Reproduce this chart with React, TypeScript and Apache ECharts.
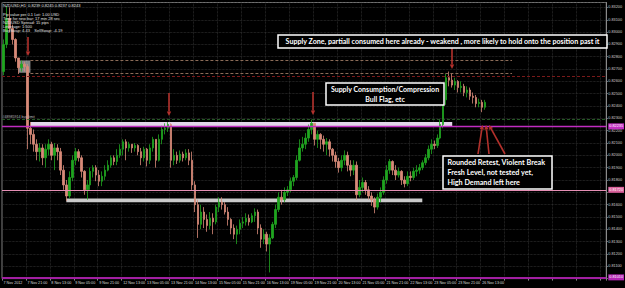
import React, { useEffect, useRef } from 'react';
import * as echarts from 'echarts';

// x-axis tick labels (one every 8 two-hour bars = 16 trading hours)
const tickLabels = [
  '7 Nov 2012', '7 Nov 21:00', '8 Nov 13:00', '9 Nov 05:00', '9 Nov 21:00', '12 Nov 13:00',
  '13 Nov 05:00', '13 Nov 21:00', '14 Nov 13:00', '15 Nov 05:00', '15 Nov 21:00', '16 Nov 13:00',
  '19 Nov 05:00', '19 Nov 21:00', '20 Nov 13:00', '21 Nov 05:00', '21 Nov 21:00', '22 Nov 13:00',
  '23 Nov 05:00', '23 Nov 21:00', '26 Nov 13:00',
];

const firstOpen = 0.8268;
const closes = [
  0.8290, 0.8311, 0.8303, 0.8294, 0.8279, 0.8271, 0.8274, 0.8272, 0.8222, 0.8217,
  0.8209, 0.8203, 0.8206, 0.8198, 0.8205, 0.8209, 0.8200, 0.8206, 0.8203, 0.8188,
  0.8176, 0.8167, 0.8182, 0.8196, 0.8203, 0.8198, 0.8187, 0.8172, 0.8176, 0.8187,
  0.8190, 0.8184, 0.8179, 0.8183, 0.8188, 0.8192, 0.8198, 0.8195, 0.8200, 0.8205,
  0.8211, 0.8206, 0.8209, 0.8206, 0.8208, 0.8203, 0.8198, 0.8205, 0.8196, 0.8206,
  0.8213, 0.8196, 0.8213, 0.8221, 0.8222, 0.8225, 0.8196, 0.8200, 0.8196, 0.8201,
  0.8198, 0.8202, 0.8196, 0.8176, 0.8160, 0.8144, 0.8154, 0.8148, 0.8143, 0.8149,
  0.8146, 0.8158, 0.8162, 0.8160, 0.8154, 0.8148, 0.8141, 0.8136, 0.8140, 0.8145,
  0.8146, 0.8149, 0.8146, 0.8151, 0.8154, 0.8141, 0.8132, 0.8136, 0.8128, 0.8133,
  0.8144, 0.8156, 0.8166, 0.8164, 0.8170, 0.8172, 0.8179, 0.8182, 0.8196, 0.8206,
  0.8209, 0.8214, 0.8221, 0.8226, 0.8213, 0.8217, 0.8213, 0.8209, 0.8211, 0.8205,
  0.8200, 0.8195, 0.8190, 0.8196, 0.8200, 0.8192, 0.8188, 0.8192, 0.8168, 0.8174,
  0.8178, 0.8172, 0.8167, 0.8164, 0.8158, 0.8166, 0.8170, 0.8180, 0.8188, 0.8195,
  0.8188, 0.8184, 0.8187, 0.8180, 0.8177, 0.8183, 0.8182, 0.8187, 0.8188, 0.8190,
  0.8194, 0.8198, 0.8205, 0.8209, 0.8208, 0.8214, 0.8225, 0.8245, 0.8263, 0.8261,
  0.8257, 0.8260, 0.8255, 0.8256, 0.8251, 0.8253, 0.8248, 0.8247, 0.8242, 0.8243,
  0.8239, 0.8243,
];
const highs = [
  0.8294, 0.8321, 0.8320, 0.8306, 0.8295, 0.8279, 0.8277, 0.8276, 0.8274, 0.8227,
  0.8221, 0.8213, 0.8210, 0.8209, 0.8209, 0.8213, 0.8211, 0.8210, 0.8209, 0.8206,
  0.8192, 0.8180, 0.8187, 0.8200, 0.8206, 0.8205, 0.8200, 0.8188, 0.8180, 0.8190,
  0.8192, 0.8192, 0.8188, 0.8187, 0.8192, 0.8196, 0.8200, 0.8200, 0.8205, 0.8209,
  0.8213, 0.8213, 0.8211, 0.8209, 0.8210, 0.8209, 0.8206, 0.8207, 0.8206, 0.8209,
  0.8215, 0.8213, 0.8217, 0.8224, 0.8226, 0.8227, 0.8226, 0.8205, 0.8203, 0.8204,
  0.8203, 0.8205, 0.8205, 0.8203, 0.8179, 0.8164, 0.8160, 0.8158, 0.8152, 0.8154,
  0.8153, 0.8160, 0.8166, 0.8166, 0.8162, 0.8158, 0.8149, 0.8144, 0.8143, 0.8148,
  0.8150, 0.8153, 0.8152, 0.8153, 0.8157, 0.8156, 0.8144, 0.8140, 0.8138, 0.8136,
  0.8146, 0.8160, 0.8170, 0.8172, 0.8174, 0.8175, 0.8182, 0.8184, 0.8200, 0.8213,
  0.8215, 0.8218, 0.8225, 0.8229, 0.8226, 0.8220, 0.8218, 0.8216, 0.8214, 0.8213,
  0.8206, 0.8203, 0.8198, 0.8200, 0.8204, 0.8203, 0.8196, 0.8196, 0.8195, 0.8180,
  0.8182, 0.8180, 0.8175, 0.8170, 0.8166, 0.8169, 0.8174, 0.8183, 0.8192, 0.8197,
  0.8196, 0.8192, 0.8190, 0.8188, 0.8183, 0.8187, 0.8187, 0.8190, 0.8192, 0.8193,
  0.8196, 0.8201, 0.8208, 0.8213, 0.8212, 0.8217, 0.8229, 0.8249, 0.8266, 0.8268,
  0.8266, 0.8263, 0.8261, 0.8260, 0.8258, 0.8256, 0.8255, 0.8251, 0.8249, 0.8246,
  0.8245, 0.8245,
];
const lows = [
  0.8265, 0.8287, 0.8300, 0.8290, 0.8276, 0.8266, 0.8268, 0.8268, 0.8205, 0.8209,
  0.8203, 0.8196, 0.8195, 0.8192, 0.8190, 0.8200, 0.8196, 0.8188, 0.8196, 0.8184,
  0.8172, 0.8163, 0.8165, 0.8179, 0.8192, 0.8195, 0.8182, 0.8168, 0.8164, 0.8172,
  0.8182, 0.8179, 0.8175, 0.8175, 0.8180, 0.8187, 0.8190, 0.8192, 0.8192, 0.8198,
  0.8200, 0.8196, 0.8203, 0.8202, 0.8203, 0.8200, 0.8192, 0.8195, 0.8191, 0.8193,
  0.8203, 0.8190, 0.8195, 0.8209, 0.8217, 0.8219, 0.8190, 0.8192, 0.8193, 0.8194,
  0.8195, 0.8196, 0.8192, 0.8172, 0.8154, 0.8133, 0.8140, 0.8141, 0.8138, 0.8140,
  0.8136, 0.8144, 0.8154, 0.8156, 0.8152, 0.8143, 0.8136, 0.8132, 0.8128, 0.8136,
  0.8141, 0.8143, 0.8143, 0.8145, 0.8146, 0.8136, 0.8125, 0.8128, 0.8122, 0.8105,
  0.8132, 0.8141, 0.8154, 0.8160, 0.8162, 0.8167, 0.8170, 0.8175, 0.8180, 0.8195,
  0.8203, 0.8205, 0.8211, 0.8217, 0.8208, 0.8206, 0.8205, 0.8203, 0.8200, 0.8199,
  0.8195, 0.8190, 0.8186, 0.8187, 0.8192, 0.8187, 0.8183, 0.8184, 0.8164, 0.8166,
  0.8170, 0.8168, 0.8164, 0.8159, 0.8153, 0.8156, 0.8162, 0.8168, 0.8177, 0.8185,
  0.8184, 0.8180, 0.8182, 0.8176, 0.8174, 0.8175, 0.8179, 0.8180, 0.8183, 0.8185,
  0.8188, 0.8192, 0.8196, 0.8201, 0.8205, 0.8206, 0.8213, 0.8222, 0.8241, 0.8256,
  0.8255, 0.8253, 0.8251, 0.8251, 0.8248, 0.8247, 0.8245, 0.8242, 0.8239, 0.8239,
  0.8235, 0.8237,
];

// horizontal levels drawn on the chart
const SLOT_COUNT = 202;
const supplyZoneTop = 0.8277;
const supplyZoneBottom = 0.8267;
const resistanceLevel = 0.8264;
const buyLimitLevel = 0.8229;
const bandTop = 0.8227;
const bandBottom = 0.82235;
const demandLevel = 0.8172;
const grayTop = 0.8165;
const grayBottom = 0.8162;
const bottomLevel = 0.8101;
const taggedLevels = [bandBottom, demandLevel, bottomLevel];

const infoLines = [
  'NZDUSD,H1  0.8239 0.8245 0.8237 0.8243',
  '',
  'Pip value per 0.1 Lot: 1.00 USD',
  'Time for new bar: 17 min 28 sec',
  'NZDUSD Spread: 15 pips',
  'Leverage: 1:500',
  'BuySwap: 4.43    SellSwap: -4.19',
];

const box1Text = 'Supply Zone, partiall consumed here already - weakend , more likely to hold onto the position past it';
const box2Text = 'Supply Consumption/Compression\nBull Flag, etc';
const box3Text = 'Rounded Retest, Violent Break\nFresh Level, not tested yet,\nHigh Demand left here';

const ARROW = '#b3312c';
const SMALL_FONT = 'Liberation Sans';

function arrow(x1: number, y1: number, x2: number, y2: number) {
  const a = Math.atan2(y2 - y1, x2 - x1);
  const hl = 4.5, hw = 2.2;
  const bx = x2 - hl * Math.cos(a), by = y2 - hl * Math.sin(a);
  return [
    { type: 'line', z: 100, shape: { x1, y1, x2: bx, y2: by }, style: { stroke: ARROW, lineWidth: 1.6 } },
    {
      type: 'polygon', z: 100,
      shape: { points: [[x2, y2], [bx + hw * Math.sin(a), by - hw * Math.cos(a)], [bx - hw * Math.sin(a), by + hw * Math.cos(a)]] },
      style: { fill: ARROW },
    },
  ];
}

function textBox(x: number, y: number, w: number, h: number, text: string, tx: number, ty: number, size: number, align: string) {
  return [
    { type: 'rect', z: 100, shape: { x, y, width: w, height: h }, style: { fill: '#000', stroke: '#fff', lineWidth: 1.5 } },
    {
      type: 'text', z: 101, x: tx, y: ty,
      style: {
        text, fill: '#fff', fontSize: size, fontWeight: 'bold', fontFamily: 'Lato',
        font: `bold ${size}px Lato`, align, textAlign: align, verticalAlign: 'middle', textVerticalAlign: 'middle',
        lineHeight: 10,
      },
    },
  ];
}

export default function App() {
  const ref = useRef<HTMLDivElement>(null);
  useEffect(() => {
    if (!ref.current) return;
    const chart = echarts.init(ref.current, undefined, { renderer: 'svg' });
    const categories = Array.from({ length: SLOT_COUNT }, (_, i) => String(i));
    const data = closes.map((c, i) => [i === 0 ? firstOpen : closes[i - 1], c, lows[i], highs[i]]);
    const last = closes[closes.length - 1];

    const priceTag = (value: number, bg: string, color: string, lineColor: string, width: number, type: string, opacity = 1) => ({
      yAxis: value,
      lineStyle: { color: lineColor, width, type, opacity },
      label: {
        show: true, position: 'end', distance: 2, formatter: value.toFixed(5),
        backgroundColor: bg, color, fontSize: 3.8, padding: [1, 1], fontFamily: SMALL_FONT,
      },
    });
    const noLabel = { show: false };

    const graphic: any[] = [];
    infoLines.forEach((t, i) => {
      graphic.push({
        type: 'text', z: 100, x: 3, y: 5 + (i === 0 ? 0 : 4 * i + 1),
        style: { text: t, fill: '#e0e0e0', fontSize: 4, fontFamily: SMALL_FONT, font: `4px ${SMALL_FONT}`, verticalAlign: 'middle', textVerticalAlign: 'middle' },
      });
    });
    graphic.push(...arrow(28, 37, 28, 56));
    graphic.push(...arrow(169, 93, 169, 116));
    graphic.push(...arrow(313, 92, 313, 115));
    graphic.push(...arrow(452, 48, 452, 69));
    graphic.push(...arrow(478, 154, 482.5, 125));
    graphic.push(...arrow(489, 154, 486, 125));
    graphic.push(...arrow(505, 154, 489, 125));
    graphic.push(...textBox(278, 35, 329, 13, box1Text, 442.5, 41.5, 7.1, 'center'));
    graphic.push(...textBox(326, 83, 118, 22, box2Text, 385, 94, 7, 'center'));
    graphic.push(...textBox(443, 156, 109, 33, box3Text, 447.5, 172.5, 7.2, 'left'));

    const option: any = {
      animation: false,
      backgroundColor: '#000',
      grid: { left: 2, right: 16, top: 2.5, bottom: 9.4, show: true, borderColor: '#808080', borderWidth: 1 },
      xAxis: {
        type: 'category', data: categories, boundaryGap: true,
        axisLine: { show: false },
        axisTick: { show: true, interval: 7, length: 2, lineStyle: { color: '#888' } },
        axisLabel: {
          interval: 7, color: '#dcdcdc', fontSize: 3.7, margin: 2, align: 'left', fontFamily: SMALL_FONT,
          formatter: (_v: string, idx: number) => (idx % 8 === 0 ? tickLabels[idx / 8] ?? '' : ''),
        },
        splitLine: { show: true, interval: 7, lineStyle: { color: '#3c3c3c', type: 'dotted', width: 0.7 } },
      },
      yAxis: {
        type: 'value', position: 'right', min: 0.81, max: 0.8324, interval: 0.001,
        axisLine: { show: true, lineStyle: { color: '#8a8a8a' } },
        axisTick: { show: true, length: 1.5, lineStyle: { color: '#8a8a8a' } },
        axisLabel: {
          color: '#cfcfcf', fontSize: 3.8, margin: 2, showMaxLabel: false, fontFamily: SMALL_FONT,
          // price tags cover the tick labels right next to them, as in the terminal
          formatter: (v: number) => (taggedLevels.some((t) => Math.abs(t - v) < 0.00025) ? '' : v.toFixed(5)),
        },
        splitLine: { show: true, lineStyle: { color: '#3c3c3c', type: 'dotted', width: 0.7 } },
      },
      series: [{
        type: 'candlestick', data, barWidth: 2,
        itemStyle: { color: '#1fa51f', color0: '#d88a78', borderColor: '#1fa51f', borderColor0: '#d88a78', borderWidth: 0.8 },
        markArea: {
          silent: true,
          data: [
            [{ coord: [5, supplyZoneTop], itemStyle: { color: 'rgba(205,205,205,0.65)' } }, { coord: [9, supplyZoneBottom] }],
            [{ coord: [9, bandTop], itemStyle: { color: '#e3d6ea' } }, { coord: [150, bandBottom] }],
            [{ coord: [21, grayTop], itemStyle: { color: '#cacaca' } }, { coord: [140, grayBottom] }],
          ],
        },
        markLine: {
          silent: true, symbol: ['none', 'none'], animation: false, precision: 5,
          data: [
            [{ coord: [9, supplyZoneTop], lineStyle: { color: '#8c6c58', width: 1, type: [3, 2] }, label: noLabel }, { coord: [170, supplyZoneTop] }],
            [{ coord: [9, supplyZoneBottom], lineStyle: { color: '#8c6c58', width: 1, type: [3, 2] }, label: noLabel }, { coord: [170, supplyZoneBottom] }],
            { yAxis: resistanceLevel, lineStyle: { color: '#7a1a1a', width: 1, type: [3, 2] }, label: noLabel },
            {
              yAxis: buyLimitLevel, lineStyle: { color: '#2f6e2f', width: 0.8, type: [3, 2] },
              label: { show: true, position: 'insideStartTop', formatter: '#48985914 buy limit', color: '#bdbdbd', fontSize: 3.6, distance: 0.5, fontFamily: SMALL_FONT },
            },
            priceTag(bandBottom, '#c22fc2', '#fff', '#c02cc0', 1.4, 'solid'),
            priceTag(demandLevel, '#d9609a', '#fff', '#e68fb5', 1, 'solid'),
            priceTag(bottomLevel, '#b425b4', '#fff', '#a21fa2', 2, 'solid'),
            priceTag(last, '#ffffff', '#000', '#ffffff', 1, 'solid', 0),
          ],
        },
      }],
      graphic,
    };
    chart.setOption(option);
    return () => chart.dispose();
  }, []);
  return <div ref={ref} style={{ position: 'fixed', left: 0, top: 0, width: 625, height: 288, background: '#000' }} />;
}
